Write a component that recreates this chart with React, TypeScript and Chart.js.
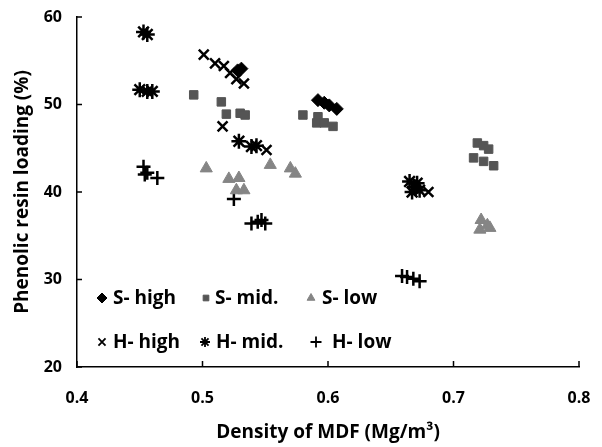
import React, { useEffect, useRef } from 'react';
import { Chart, registerables } from 'chart.js';
import { drawPoint } from 'chart.js/helpers';

Chart.register(...registerables);

const FONT = "'Open Sans', 'DejaVu Sans', sans-serif";

const xTickValues = [0.4, 0.5, 0.6, 0.7, 0.8];
const yTickValues = [20, 30, 40, 50, 60];

const seriesNames = ['S- high', 'S- mid.', 'S- low', 'H- high', 'H- mid.', 'H- low'];

const sHighX = [0.528, 0.531, 0.592, 0.597, 0.601, 0.607];
const sHighY = [53.9, 54.1, 50.5, 50.2, 49.9, 49.5];

const sMidX = [0.493, 0.515, 0.519, 0.530, 0.534, 0.580, 0.592, 0.591, 0.597, 0.604, 0.719, 0.724, 0.728, 0.716, 0.724, 0.732];
const sMidY = [51.1, 50.3, 48.9, 49.0, 48.8, 48.8, 48.6, 47.9, 47.9, 47.5, 45.6, 45.3, 44.9, 43.9, 43.5, 43.0];

const sLowX = [0.503, 0.521, 0.529, 0.527, 0.533, 0.554, 0.570, 0.574, 0.722, 0.727, 0.729, 0.721];
const sLowY = [42.7, 41.5, 41.6, 40.2, 40.2, 43.1, 42.7, 42.1, 36.8, 36.2, 35.9, 35.7];

const hHighX = [0.501, 0.510, 0.517, 0.522, 0.527, 0.533, 0.516, 0.551, 0.680];
const hHighY = [55.7, 54.7, 54.4, 53.6, 52.9, 52.4, 47.5, 44.8, 40.0];

const hMidX = [0.453, 0.456, 0.450, 0.456, 0.460, 0.529, 0.539, 0.543, 0.665, 0.671, 0.667, 0.673, 0.669];
const hMidY = [58.3, 58.0, 51.7, 51.5, 51.5, 45.8, 45.2, 45.3, 41.2, 41.0, 40.0, 40.2, 40.6];

const hLowX = [0.453, 0.454, 0.456, 0.464, 0.525, 0.539, 0.544, 0.547, 0.550, 0.659, 0.663, 0.668, 0.673];
const hLowY = [42.9, 42.0, 42.2, 41.6, 39.2, 36.4, 36.6, 36.8, 36.4, 30.4, 30.3, 30.1, 29.8];

const toPoints = (xs: number[], ys: number[]) => xs.map((x, i) => ({ x, y: ys[i] }));

const styles = [
  { pointStyle: 'rectRot', color: '#000', fill: '#000', radius: 6.5, lw: 1, lr: 5, llw: 1 },
  { pointStyle: 'rect', color: '#555', fill: '#555', radius: 6, lw: 1, lr: 4, llw: 1 },
  { pointStyle: 'triangle', color: '#858585', fill: '#858585', radius: 7, lw: 1, lr: 4.5, llw: 1 },
  { pointStyle: 'crossRot', color: '#000', fill: '#000', radius: 7, lw: 2.5, lr: 5, llw: 1.8 },
  { pointStyle: 'star', color: '#000', fill: '#000', radius: 7.5, lw: 2.5, lr: 5, llw: 1.8 },
  { pointStyle: 'cross', color: '#000', fill: '#000', radius: 7, lw: 2.5, lr: 5.5, llw: 1.8 },
];

const dataXs = [sHighX, sMidX, sLowX, hHighX, hMidX, hLowX];
const dataYs = [sHighY, sMidY, sLowY, hHighY, hMidY, hLowY];

const customPlugin = {
  id: 'customDecor',
  afterDraw(chart: any) {
    const { ctx, chartArea, scales } = chart;
    const xs = scales.x;
    const ys = scales.y;
    ctx.save();
    ctx.strokeStyle = '#000';
    ctx.lineWidth = 1.5;
    ctx.beginPath();
    for (const v of yTickValues) {
      const py = ys.getPixelForValue(v);
      ctx.moveTo(chartArea.left, py);
      ctx.lineTo(chartArea.left + 5, py);
    }
    for (const v of xTickValues) {
      const px = xs.getPixelForValue(v);
      ctx.moveTo(px, chartArea.bottom);
      ctx.lineTo(px, chartArea.bottom - 6);
    }
    ctx.stroke();

    // legend inside plot area
    const rows = [chartArea.bottom - 69, chartArea.bottom - 25];
    const markerX = [[25, 129, 234], [25, 128, 239]];
    const textX = [[36, 138, 245], [36, 139, 255]];
    ctx.font = `bold 19px ${FONT}`;
    ctx.textBaseline = 'middle';
    ctx.textAlign = 'left';
    seriesNames.forEach((name, i) => {
      const row = Math.floor(i / 3);
      const col = i % 3;
      const st = styles[i];
      const cx = chartArea.left + markerX[row][col];
      const cy = rows[row];
      ctx.fillStyle = st.fill;
      ctx.strokeStyle = st.color;
      ctx.lineWidth = st.llw;
      drawPoint(ctx, { pointStyle: st.pointStyle as any, radius: st.lr, rotation: 0, borderWidth: st.llw }, cx, cy);
      ctx.fillStyle = '#000';
      ctx.fillText(name, chartArea.left + textX[row][col], cy + 1);
    });
    ctx.restore();
  },
};

export default function App() {
  const ref = useRef<HTMLCanvasElement>(null);
  useEffect(() => {
    document.body.style.margin = '0';
    const canvas = ref.current;
    if (!canvas) return;
    const chart = new Chart(canvas, {
      type: 'scatter',
      data: {
        datasets: seriesNames.map((name, i) => ({
          label: name,
          data: toPoints(dataXs[i], dataYs[i]),
          pointStyle: styles[i].pointStyle as any,
          pointRadius: styles[i].radius,
          pointBackgroundColor: styles[i].fill,
          pointBorderColor: styles[i].color,
          pointBorderWidth: styles[i].lw,
          showLine: false,
        })),
      },
      options: {
        animation: false,
        responsive: false,
        maintainAspectRatio: false,
        layout: { padding: { top: 17, right: 23, left: 0, bottom: 0 } },
        plugins: { legend: { display: false }, tooltip: { enabled: false } },
        scales: {
          x: {
            type: 'linear',
            min: 0.4,
            max: 0.8,
            afterBuildTicks: (scale: any) => {
              scale.ticks = xTickValues.map((v) => ({ value: v }));
            },
            afterFit: (scale: any) => {
              scale.height = 80;
              scale.paddingLeft = 0;
              scale.paddingRight = 0;
            },
            grid: { display: false, drawTicks: false },
            border: { display: true, color: '#000', width: 1.5 },
            ticks: {
              color: '#000',
              font: { family: FONT, size: 16, weight: 'bold' },
              padding: 22,
              maxRotation: 0,
              autoSkip: false,
              callback: (v: any) => Number(v).toFixed(1),
            },
            title: {
              display: true,
              text: 'Density of MDF (Mg/m³)',
              color: '#000',
              font: { family: FONT, size: 19, weight: 'bold' },
              padding: { top: 0, bottom: 3 },
            },
          },
          y: {
            type: 'linear',
            min: 20,
            max: 60,
            afterBuildTicks: (scale: any) => {
              scale.ticks = yTickValues.map((v) => ({ value: v }));
            },
            afterFit: (scale: any) => {
              scale.width = 77;
              scale.paddingTop = 0;
              scale.paddingBottom = 0;
            },
            grid: { display: false, drawTicks: false },
            border: { display: true, color: '#000', width: 1.5 },
            ticks: {
              color: '#000',
              font: { family: FONT, size: 16, weight: 'bold' },
              padding: 15,
              callback: (v: any) => String(v),
            },
            title: {
              display: true,
              text: 'Phenolic resin loading (%)',
              color: '#000',
              font: { family: FONT, size: 19, weight: 'bold' },
              padding: { top: 11, bottom: 0 },
            },
          },
        },
      },
      plugins: [customPlugin],
    });
    return () => chart.destroy();
  }, []);
  return (
    <div style={{ width: 602, height: 447, background: '#fff' }}>
      <canvas ref={ref} width={602} height={447} style={{ width: 602, height: 447, display: 'block' }} />
    </div>
  );
}
